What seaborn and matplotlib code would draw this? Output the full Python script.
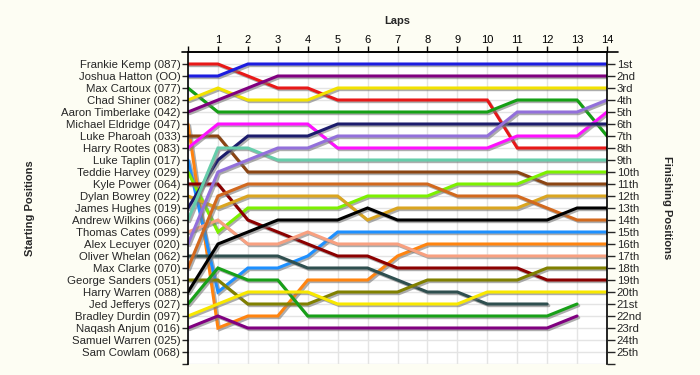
import numpy as np
import pandas as pd
import matplotlib
matplotlib.use('Agg')
import matplotlib.pyplot as plt
import matplotlib.patheffects as pe
import seaborn as sns

# starting order (left axis)
drivers = ['Frankie Kemp (087)', 'Joshua Hatton (OO)', 'Max Cartoux (077)', 'Chad Shiner (082)',
           'Aaron Timberlake (042)', 'Michael Eldridge (047)', 'Luke Pharoah (033)', 'Harry Rootes (083)',
           'Luke Taplin (017)', 'Teddie Harvey (029)', 'Kyle Power (064)', 'Dylan Bowrey (022)',
           'James Hughes (019)', 'Andrew Wilkins (066)', 'Thomas Cates (099)', 'Alex Lecuyer (020)',
           'Oliver Whelan (062)', 'Max Clarke (070)', 'George Sanders (051)', 'Harry Warren (088)',
           'Jed Jefferys (027)', 'Bradley Durdin (097)', 'Naqash Anjum (016)', 'Samuel Warren (025)',
           'Sam Cowlam (068)']
finish_labels = ['1st', '2nd', '3rd'] + [f'{i}th' for i in range(4, 21)] + ['21st', '22nd', '23rd', '24th', '25th']
laps = list(range(0, 15))
na = np.nan

# positions per lap (lap 0 = grid)
positions = {
    'Frankie Kemp (087)':     [1, 1, 2, 3, 3, 4, 4, 4, 4, 4, 4, 8, 8, 8, 8],
    'Joshua Hatton (OO)':     [2, 2, 1, 1, 1, 1, 1, 1, 1, 1, 1, 1, 1, 1, 1],
    'Max Cartoux (077)':      [3, 5, 5, 5, 5, 5, 5, 5, 5, 5, 5, 4, 4, 4, 7],
    'Chad Shiner (082)':      [4, 3, 4, 4, 4, 3, 3, 3, 3, 3, 3, 3, 3, 3, 3],
    'Aaron Timberlake (042)': [5, 4, 3, 2, 2, 2, 2, 2, 2, 2, 2, 2, 2, 2, 2],
    'Michael Eldridge (047)': [6, 23, 22, 22, 19, 19, 19, 17, 16, 16, 16, 16, 16, 16, 16],
    'Luke Pharoah (033)':     [7, 7, 10, 10, 10, 10, 10, 10, 10, 10, 10, 10, 11, 11, 11],
    'Harry Rootes (083)':     [8, 6, 6, 6, 6, 8, 8, 8, 8, 8, 8, 7, 7, 7, 5],
    'Luke Taplin (017)':      [9, 20, 18, 18, 17, 15, 15, 15, 15, 15, 15, 15, 15, 15, 15],
    'Teddie Harvey (029)':    [10, 15, 13, 13, 13, 13, 12, 12, 12, 11, 11, 11, 10, 10, 10],
    'Kyle Power (064)':       [11, 11, 14, 15, 16, 17, 17, 18, 18, 18, 18, 18, 19, 19, 19],
    'Dylan Bowrey (022)':     [12, 13, 12, 12, 12, 12, 14, 13, 13, 13, 13, 13, 12, 12, 12],
    'James Hughes (019)':     [13, 9, 7, 7, 7, 6, 6, 6, 6, 6, 6, 6, 6, 6, 6],
    'Andrew Wilkins (066)':   [14, 8, 8, 9, 9, 9, 9, 9, 9, 9, 9, 9, 9, 9, 9],
    'Thomas Cates (099)':     [15, 14, 16, 16, 15, 16, 16, 16, 17, 17, 17, 17, 17, 17, 17],
    'Alex Lecuyer (020)':     [16, 10, 9, 8, 8, 7, 7, 7, 7, 7, 7, 5, 5, 5, 4],
    'Oliver Whelan (062)':    [17, 17, 17, 17, 18, 18, 18, 19, 20, 20, 21, 21, 21, na, na],
    'Max Clarke (070)':       [18, 12, 11, 11, 11, 11, 11, 11, 11, 12, 12, 12, 13, 14, 14],
    'George Sanders (051)':   [19, 19, 21, 21, 21, 20, 20, 20, 19, 19, 19, 19, 18, 18, 18],
    'Harry Warren (088)':     [20, 16, 15, 14, 14, 14, 13, 14, 14, 14, 14, 14, 14, 13, 13],
    'Jed Jefferys (027)':     [21, 18, 19, 19, 22, 22, 22, 22, 22, 22, 22, 22, 22, 21, na],
    'Bradley Durdin (097)':   [22, 21, 20, 20, 20, 21, 21, 21, 21, 21, 20, 20, 20, 20, 20],
    'Naqash Anjum (016)':     [23, 22, 23, 23, 23, 23, 23, 23, 23, 23, 23, 23, 23, 22, na],
}

colors = {
    'Frankie Kemp (087)': '#e81818', 'Joshua Hatton (OO)': '#1c1ce0', 'Max Cartoux (077)': '#15a015',
    'Chad Shiner (082)': '#f2e200', 'Aaron Timberlake (042)': '#800080', 'Michael Eldridge (047)': '#ff8410',
    'Luke Pharoah (033)': '#8b4513', 'Harry Rootes (083)': '#ff10ff', 'Luke Taplin (017)': '#1e90ff',
    'Teddie Harvey (029)': '#7cf000', 'Kyle Power (064)': '#8b0000', 'Dylan Bowrey (022)': '#daa520',
    'James Hughes (019)': '#1c1c6c', 'Andrew Wilkins (066)': '#66cdaa', 'Thomas Cates (099)': '#f8a080',
    'Alex Lecuyer (020)': '#9370db', 'Oliver Whelan (062)': '#2f4f4f', 'Max Clarke (070)': '#d2691e',
    'George Sanders (051)': '#808000', 'Harry Warren (088)': '#000000', 'Jed Jefferys (027)': '#18a018',
    'Bradley Durdin (097)': '#f8e800', 'Naqash Anjum (016)': '#800080',
}

rows = []
for d, vals in positions.items():
    for lap, p in zip(laps, vals):
        rows.append({'driver': d, 'lap': lap, 'pos': p})
df = pd.DataFrame(rows).dropna()

sns.set_style('white')
plt.rcParams['font.family'] = ['Liberation Sans', 'DejaVu Sans']

fig = plt.figure(figsize=(7, 3.75), dpi=100, facecolor='#fdfdf3')
ax = fig.add_axes([188/700, 1-364/375, (607-188)/700, 312/375])
ax.set_facecolor('white')

sns.lineplot(data=df, x='lap', y='pos', hue='driver', hue_order=list(positions.keys()),
             palette=colors, estimator=None, sort=False, linewidth=2.2, legend=False, ax=ax)
for ln in ax.lines:
    ln.set_path_effects([pe.SimpleLineShadow(offset=(1.2, -1.2), shadow_color='#777777', alpha=0.6), pe.Normal()])
    ln.set_solid_joinstyle('miter')

ax.set_xlim(0, 14)
ax.set_ylim(26, 0)
ax.xaxis.tick_top()
ax.xaxis.set_label_position('top')
ax.set_xticks(laps)
ax.set_xticklabels([''] + [str(i) for i in laps[1:]], fontsize=8)
ax.set_yticks(range(1, 27))
ax.set_yticklabels(drivers + [''], fontsize=8.2)
ax.set_xlabel('Laps', fontweight='bold', fontsize=8, labelpad=8)
ax.set_ylabel('')
ax.tick_params(axis='x', direction='out', length=4.5, width=1, pad=0.5, colors='black')
ax.tick_params(axis='y', direction='out', length=4.5, width=1, pad=1)
ax.grid(True, color='#e4e4e4', linewidth=1)
ax.set_axisbelow(True)
for s in ['left', 'top', 'right']:
    ax.spines[s].set_color('black')
    ax.spines[s].set_linewidth(1.2)
ax.spines['bottom'].set_visible(False)
ax.axhline(0, xmin=-0.015, xmax=1.027, color='black', linewidth=1.2, clip_on=False)

ax2 = ax.twinx()
ax2.set_ylim(26, 0)
ax2.set_yticks(range(1, 27))
ax2.set_yticklabels(finish_labels + [''], fontsize=8.2)
ax2.tick_params(axis='y', direction='out', length=6, width=1, pad=1)
for s in ax2.spines.values():
    s.set_visible(False)
ax2.grid(False)

fig.text(30/700, 1-208/375, 'Starting Positions', rotation=90, ha='center', va='center',
         fontsize=8, fontweight='bold')
fig.text(667/700, 1-208/375, 'Finishing Positions', rotation=270, ha='center', va='center',
         fontsize=8, fontweight='bold')

fig.savefig('out.png', dpi=100, facecolor=fig.get_facecolor())
